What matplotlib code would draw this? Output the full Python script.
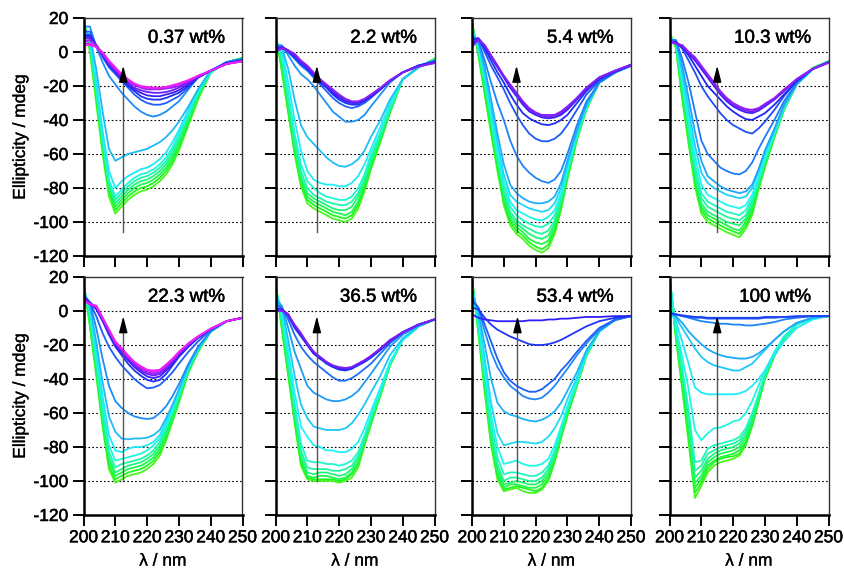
import matplotlib
matplotlib.use("Agg")
import matplotlib.pyplot as plt
import matplotlib.patheffects as pe
from matplotlib.colors import hsv_to_rgb

plt.rcParams['font.family'] = ['Liberation Sans', 'DejaVu Sans']
plt.rcParams['axes.unicode_minus'] = False

# wavelength grid (nm)
WL = [200, 202, 204, 206, 208, 210, 212, 214, 216, 218, 220, 222, 224, 226, 228, 230, 233, 236, 240, 245, 250]

LABELS = ["0.37 wt%", "2.2 wt%", "5.4 wt%", "10.3 wt%", "22.3 wt%", "36.5 wt%", "53.4 wt%", "100 wt%"]

# ellipticity (mdeg), curves ordered from first (green) to last (violet/magenta)
CD_0_37 = [
    [20, 0, -30, -60, -85, -95, -91, -87, -84, -82, -81, -79, -76, -72, -66, -58, -43, -28, -12, -6, -3.5],
    [19, 4, -26, -56, -82, -93, -89, -85, -82, -80, -79, -77, -74, -70, -64, -56, -42, -27, -12, -6, -3.5],
    [18, 4, -25, -55, -80, -91, -87, -83, -80, -78, -77, -75, -72, -68, -62, -54, -40, -26, -12, -6, -3.5],
    [17, 5, -24, -54, -79, -89, -85, -81, -78, -76, -75, -73, -70, -66, -60, -52, -39, -25, -12, -6, -4],
    [16, 6, -22, -52, -77, -87, -83, -79, -76, -74, -73, -71, -68, -64, -58, -50, -37, -24, -12, -6, -4],
    [15, 7, -20, -50, -75, -85, -81, -77, -74, -72, -71, -69, -66, -62, -56, -48, -36, -23, -12, -6, -4],
    [14, 8, -17, -46, -70, -80, -76, -73, -71, -69, -68, -66, -63, -59, -53, -46, -34, -22, -11, -6, -4],
    [13, 10, -10, -35, -57, -64, -62, -60, -59, -58, -57, -55, -53, -50, -46, -41, -32, -22, -11, -6, -4],
    [15, 15, 3, -6, -14, -19, -24, -28, -32, -35, -37, -38, -37, -35, -32, -29, -22, -15, -11, -6, -4],
    [12, 12, 4, -3, -9, -13, -17, -21, -25, -28, -30, -31, -31, -30, -28, -26, -21, -15, -11, -6, -4.5],
    [10, 10, 4, -2, -8, -12, -16, -20, -23, -26, -27.5, -28, -28, -27, -25.5, -24, -20, -15, -11, -6.5, -5],
    [9, 9, 4, -1, -7, -11, -15, -19, -22, -24, -25.5, -26, -26, -25, -24, -22.5, -19, -15, -11, -7, -5],
    [8, 8, 4, -1, -7, -11, -15, -18, -21, -22.5, -23.5, -24, -24, -23.5, -22.5, -21, -18, -14.5, -11, -7, -5],
    [6, 7, 4, -1, -6, -10, -14, -17, -19.5, -21, -22, -22, -22, -21.5, -21, -20, -17.5, -14.5, -11, -7, -5.5],
    [5, 5, 3, -1, -6, -10, -14, -17, -19, -20.5, -21, -21.5, -21.5, -21, -20, -19, -17, -14, -11, -7, -5.5],
    [4, 4, 3, 0, -5, -9, -13, -16, -18.5, -20, -20.5, -21, -21, -20.5, -19.5, -18.5, -16.5, -14, -11, -7, -5.5],
]

CD_2_2 = [
    [12, -12, -36, -60, -79, -89, -92, -94, -96, -98, -99, -100, -98, -92, -82, -69, -53, -36, -16, -9, -4],
    [11, -10, -34, -58, -77, -87, -90, -92, -94, -96, -97, -98, -96, -90, -80, -68, -52, -35, -16, -9, -4],
    [10, -8, -32, -56, -75, -85, -88, -90, -92, -94, -95, -96, -94, -88, -78, -66, -51, -35, -16, -9, -4.5],
    [9, -6, -30, -54, -73, -83, -86, -88, -90, -92, -93, -93, -91, -85, -76, -64, -50, -34, -16, -9, -4.5],
    [8, -4, -27, -51, -70, -80, -84, -86, -88, -89, -90, -90, -88, -83, -74, -62, -48, -33, -16, -9, -5],
    [7, -2, -24, -48, -66, -76, -80, -83, -85, -86, -87, -87, -85, -80, -72, -60, -47, -32, -16, -9, -5],
    [6, 2, -18, -40, -58, -70, -75, -77, -78, -78, -79, -79, -77, -73, -66, -57, -44, -30, -16, -9, -5],
    [5, 3, -10, -28, -43, -50, -54, -58, -62, -65, -67, -67.5, -66, -63, -58, -50, -40, -28, -16, -9, -5],
    [4, 4, -2, -8, -13, -16, -20, -25, -30, -35, -38, -41, -41, -40, -37, -32, -25, -18, -12, -8, -5],
    [3, 3, 0, -4, -8, -11, -15, -19, -23, -27, -30, -32, -33, -32, -30, -27, -22, -17, -12, -8, -5.5],
    [2, 3, 0, -3, -7, -10, -14, -18, -21, -25, -28, -30, -31, -31, -29, -26.5, -22, -17, -12, -8, -6],
    [1, 3, 1, -2, -6, -9, -13, -17, -20, -24, -27, -29, -30, -30, -28.5, -26, -22, -17, -12, -8, -6],
    [1, 3, 1, -2, -6, -9, -13, -16, -20, -23, -26, -28, -29.5, -29.5, -28, -25.5, -21.5, -17, -12, -8.5, -6.5],
    [0, 2, 1, -1, -5, -8, -12, -16, -19, -22, -25, -27.5, -29, -29, -27.5, -25, -21, -16.5, -12, -8.5, -6.5],
]

CD_5_4 = [
    [18, -2, -25, -48, -70, -90, -102, -107, -110, -114, -116.5, -118, -115.5, -107, -93, -75, -52, -34, -18, -11.5, -7.5],
    [17, -1, -24, -46, -68, -88, -100, -105, -108, -112, -114.5, -116, -113.5, -105, -91, -74, -51, -33, -18, -11.5, -7.5],
    [16, 0, -22, -44, -66, -86, -98, -103, -106, -110, -112, -113, -111, -103, -90, -73, -51, -33, -18, -11.5, -7.5],
    [15, 1, -20, -42, -64, -84, -96, -101, -104, -107, -109, -110, -108, -101, -88, -72, -50, -33, -18, -11.5, -8],
    [14, 2, -18, -40, -62, -82, -94, -99, -102, -104, -106, -107, -105, -99, -87, -71, -50, -33, -18, -12, -8],
    [13, 3, -16, -38, -60, -79, -91, -96, -99, -101, -102.5, -103, -101, -96, -85, -70, -49, -32, -18, -12, -8],
    [12, 4, -14, -35, -57, -76, -88, -93, -95, -97, -98.5, -99, -97, -93, -83, -68, -48, -32, -18, -12, -8],
    [11, 5, -12, -32, -53, -72, -84, -88, -90, -92, -93, -94, -93, -89, -80, -66, -47, -31, -18, -12, -8],
    [10, 6, -9, -28, -48, -66, -78, -83, -86, -88, -89, -89, -88, -85, -77, -64, -46, -31, -18, -12, -8],
    [9, 7, -5, -18, -30, -40, -52, -61, -67, -71, -74, -76, -77, -75, -70, -60, -43, -29, -18, -12, -8],
    [8, 8, 0, -8, -15, -22, -30, -37, -43, -48, -51, -52.5, -52.5, -51, -48, -43, -34, -25, -17, -12, -8],
    [7, 8, 2, -5, -12, -18, -25, -31, -36, -39, -41, -42.5, -43, -42, -40, -37, -30, -23, -16, -11.5, -8],
    [5, 8, 3, -3, -9, -15, -21, -26, -31, -35, -37, -38.5, -39, -38.5, -37, -34, -28, -22, -15, -11, -7.5],
    [4, 8, 4, -2, -8, -14, -20, -25, -30, -34, -36, -37.5, -38, -37.5, -36, -33, -27, -21, -15, -11, -7.5],
    [3, 7, 4, -2, -8, -14, -19, -24, -29, -33, -35.5, -37, -37, -37, -35, -32, -27, -21, -15, -11, -7.5],
]

CD_10_3 = [
    [12, 2, -28, -54, -79, -95, -100, -102, -104, -106, -107.5, -109, -104, -96, -81, -68, -50, -34, -19, -9.5, -5.5],
    [11, 3, -26, -52, -77, -93, -98, -100, -102, -104, -105.5, -107, -102, -94, -80, -67, -50, -34, -19, -9.5, -5.5],
    [10, 4, -24, -50, -75, -91, -96, -98, -100, -102, -104, -105, -100, -92, -79, -66, -49, -34, -19, -9.5, -5.5],
    [10, 4, -22, -48, -72, -89, -94, -96, -98, -100, -101, -102, -98, -90, -78, -65, -49, -33, -19, -9.5, -5.5],
    [9, 5, -20, -45, -69, -86, -91, -93, -95, -97, -98, -99, -96, -88, -76, -64, -48, -33, -19, -10, -5.5],
    [9, 5, -18, -42, -66, -83, -88, -90, -92, -94, -95, -96, -93, -86, -75, -63, -48, -33, -19, -10, -6],
    [8, 6, -15, -38, -61, -78, -84, -86, -88, -90, -91, -92, -90, -84, -73, -61, -47, -32, -19, -10, -6],
    [8, 6, -12, -33, -55, -71, -77, -80, -82, -84, -85, -86, -85, -80, -70, -59, -46, -32, -19, -10, -6],
    [7, 7, -8, -27, -47, -64, -73, -76, -79, -81, -82, -83, -82, -78, -69, -58, -45, -31, -19, -10, -6],
    [7, 7, -4, -18, -35, -52, -60, -64, -68, -70, -71.5, -72, -70, -65, -57, -50, -40, -29, -18, -10, -6],
    [6, 6, 2, -5, -12, -20, -26, -31, -36, -40, -43, -45, -47, -48, -45, -41, -34, -26, -17, -10, -6],
    [6, 6, 3, -2, -8, -14, -20, -24, -28, -32, -35, -37.5, -39.5, -40, -38, -36, -31, -25, -17, -10, -6],
    [6, 5, 3, -1, -5, -10, -15, -20, -25, -29, -32, -34, -35.5, -36, -34.5, -32, -28, -23, -16, -10, -6],
    [6, 5, 4, 0, -4, -9, -14, -19, -24, -28, -31, -33, -34.5, -35, -33.5, -31, -27.5, -23, -16, -10, -6],
    [7, 5, 4, 0, -3, -8, -13, -18, -23, -27, -30, -32, -33.5, -34, -33, -30.5, -27, -22, -16, -10, -6.5],
]

CD_22_3 = [
    [18, -9, -38, -68, -93, -101, -99, -97, -96, -95, -93, -90, -85, -76, -65, -54, -36, -24, -12, -6, -4],
    [17, -8, -36, -66, -91, -99, -97, -95, -94, -93, -91, -88, -83, -75, -64, -53, -36, -24, -12, -6, -4],
    [16, -6, -34, -64, -88, -97, -95, -93, -92, -91, -89, -86, -81, -73, -63, -52, -35, -23, -12, -6, -4],
    [15, -4, -32, -62, -86, -95, -93, -91, -90, -89, -87, -84, -79, -71, -61, -51, -35, -23, -12, -6, -4],
    [14, -2, -30, -59, -83, -92, -90, -89, -88, -87, -85, -82, -77, -69, -60, -50, -34, -23, -12, -6, -4],
    [13, 0, -27, -55, -79, -88, -87, -86, -85, -84, -82, -79, -75, -67, -58, -48, -33, -22, -12, -6, -4],
    [12, 2, -23, -50, -73, -82, -83, -81, -80, -80, -79, -77, -73, -65, -56, -47, -33, -22, -12, -6, -4],
    [11, 4, -18, -42, -62, -71, -75, -75.5, -75, -75, -74.5, -73, -70, -63, -55, -46, -32, -22, -12, -6, -4],
    [10, 5, -10, -28, -44, -53, -57, -60, -62, -63, -63.5, -63, -60, -56, -50, -43, -31, -21, -12, -6, -4],
    [9, 5, -3, -13, -21, -27, -32, -36, -40, -43, -45.5, -45, -43.5, -40, -36, -31, -24, -18, -11, -6, -4],
    [8, 5, 1, -6, -14, -21, -26, -31, -35, -38, -40.5, -41.5, -40.5, -37, -32, -27, -21, -16, -11, -6, -4],
    [8, 5, 2, -5, -13, -20, -25, -29, -33, -36, -38.5, -39.5, -38.5, -35, -31, -26, -20, -15.5, -10.5, -6, -4],
    [7, 4, 2, -5, -12, -19, -24, -28, -32, -35, -37, -38, -37, -34, -30, -25.5, -20, -15.5, -10.5, -6, -4],
    [7, 4, 3, -4, -12, -19, -23, -27, -31, -34, -36, -37, -36, -33, -29, -25, -19.5, -15, -10.5, -6, -4],
    [6, 4, 3, -4, -11, -18, -22, -27, -30, -33, -35, -36, -35, -32, -28.5, -24.5, -19, -15, -10.5, -6, -4],
    [6, 4, 3, -4, -11, -18, -22, -26, -30, -32.5, -34.5, -35, -34.5, -31.5, -28, -24, -19, -15, -10.5, -6, -4],
]

CD_36_5 = [
    [18, -11, -38, -66, -91, -99, -100, -100, -100, -100, -101, -100, -98, -92, -79, -67, -50, -32, -17, -9, -5],
    [17, -10, -37, -64, -89, -98, -99, -99, -99, -99, -100, -99, -96, -90, -78, -66, -49, -32, -17, -9, -5],
    [16, -8, -35, -62, -87, -97, -98, -97, -97, -98, -99, -98, -95, -89, -77, -65, -49, -31, -17, -9, -5],
    [15, -6, -33, -60, -85, -95, -96, -95, -95, -96, -97, -96, -93, -87, -76, -64, -48, -31, -17, -9, -5],
    [14, -4, -30, -57, -82, -92, -93, -93, -93, -94, -94, -93, -91, -85, -75, -63, -48, -31, -17, -9, -5],
    [13, -2, -27, -54, -78, -88, -89, -89, -90, -90, -91, -90, -88, -83, -73, -62, -47, -31, -17, -9, -5],
    [12, 0, -23, -48, -68, -74, -79, -80, -82, -82, -83, -83, -81, -77, -69, -59, -45, -30, -17, -9, -5],
    [10, 2, -17, -38, -55, -63, -68, -69, -70, -70, -70, -69, -66, -61, -55, -48, -38, -26, -16, -9, -5],
    [6, 3, -10, -24, -34, -44, -48, -50, -52, -53, -53, -52, -50, -47, -42, -37, -29, -21, -14, -8.5, -5],
    [4, 2, -5, -14, -21, -26, -30, -33, -36, -39, -41, -41, -39.5, -37, -34, -31, -25, -19, -13, -8, -5],
    [2, 1, -3, -10, -15, -20, -25, -28, -31, -33, -34.5, -35, -34, -32, -30, -27.5, -23, -18, -12.5, -8, -5],
    [1, 1, -2, -9, -14, -20, -25, -28, -30, -32.5, -34, -34.5, -33.5, -31.5, -29.5, -27, -22.5, -17.5, -12.5, -8, -5],
    [0, 1, -2, -9, -14, -19, -24, -27, -30, -32, -33.5, -34, -33, -31, -29, -26.5, -22, -17.5, -12.5, -8, -5],
    [0, 0, -2, -8, -13, -19, -24, -27, -30, -32, -33, -33.5, -33, -31, -29, -26.5, -22, -17, -12.5, -8, -5],
]

CD_53_4 = [
    [20, -13, -48, -79, -99, -106, -105, -104, -106, -107, -107, -105, -100, -89, -75, -62, -44, -26.5, -12, -5, -3],
    [19, -12, -46, -77, -97, -105, -104, -103, -104, -105, -106, -104, -99, -88, -74, -61, -44, -26, -12, -5, -3],
    [18, -11, -44, -75, -95, -104, -102, -102, -103, -104, -104, -102, -97, -87, -73, -60, -43, -26, -12, -5, -3],
    [17, -10, -42, -73, -93, -102, -101, -100, -101, -102, -102, -100, -95, -85, -72, -59, -43, -26, -12, -5, -3],
    [16, -9, -40, -70, -90, -100, -98, -98, -99, -100, -100, -98, -93, -84, -71, -58, -42, -25, -12, -5, -3],
    [15, -7, -37, -66, -86, -96, -95, -95, -96, -97, -97, -95, -91, -82, -70, -57, -42, -25, -12, -5, -3],
    [14, -5, -33, -61, -80, -90, -89, -88, -90, -91, -91, -90, -87, -79, -68, -56, -41, -25, -12, -5, -3],
    [12, -2, -28, -54, -72, -79, -78, -77, -77, -77.5, -78, -77, -74, -69, -62, -52, -39, -24, -12, -5, -3],
    [10, 0, -20, -40, -54, -59, -61, -62, -63.5, -64.5, -65, -64, -62, -59, -54, -47, -36, -23, -12, -5, -3],
    [7, 2, -12, -24, -33, -39, -44, -47, -50, -51.5, -52, -51, -48, -44, -39, -34, -26, -19, -11, -5.5, -3],
    [6, 2, -8, -18, -28, -36, -41, -44, -46, -47.5, -47.5, -46, -43, -40, -35, -31, -24, -17.5, -10, -5, -3],
    [2, 1, -4, -8, -11, -13, -15, -16.5, -18, -19.5, -20, -20, -19.5, -18.5, -17, -15, -12, -9, -6, -4, -3],
    [-2, -4, -5, -5.5, -6, -6, -6, -6, -6, -5.5, -5.5, -5.5, -5, -5, -4.5, -4.5, -4, -3.5, -3.5, -3, -3],
]

CD_100 = [
    [20, -16, -46, -77, -110, -103, -95, -91, -89, -88, -87, -85, -79, -68, -54, -40, -26.5, -16.5, -8, -4, -3],
    [20, -15, -44, -74, -107, -101, -93, -89, -87, -86, -85.5, -84, -78, -67, -53, -40, -26, -16, -8, -4, -3],
    [20, -14, -42, -71, -104, -99, -91, -88, -86, -85, -84, -82, -77, -66, -53, -39, -26, -16, -8, -4, -3],
    [20, -13, -40, -68, -101, -97, -89, -86, -84, -83, -82, -80, -75, -65, -52, -39, -25.5, -16, -8, -4, -3],
    [20, -12, -38, -65, -98, -94, -87, -84, -82, -81, -80, -78, -73, -63, -51, -38, -25, -15.5, -8, -4, -3],
    [20, -11, -36, -62, -94, -91, -84, -82, -80, -79, -78, -76, -71, -62, -50, -38, -25, -15.5, -8, -4, -3],
    [19, -10, -33, -58, -89, -88, -81, -79, -78, -77, -76, -74, -69, -60, -49, -37, -24.5, -15, -8, -4, -3],
    [18, -9, -27, -46, -70, -76, -72, -69, -68.5, -67, -65, -64, -60, -53, -44, -35, -24, -15, -8, -4, -3],
    [0, -6, -18, -31, -45, -48, -49, -49, -49, -49, -49, -48.5, -47, -44, -40, -35, -26, -18, -10, -5, -3],
    [-1, -4, -10, -16, -22, -27, -30, -32, -33, -34, -35, -35, -33, -31, -27, -23, -17, -12, -7, -4, -3],
    [-1, -3, -7, -12, -16, -19.5, -22.5, -24.5, -26, -27, -27.5, -28, -28, -27, -25, -22, -17, -12, -7, -4, -3],
    [-1, -2, -3, -4, -5, -6, -6.5, -7, -7.5, -7.5, -8, -8, -8.5, -8.5, -8, -7.5, -6.5, -5, -4, -3, -3],
    [-1, -2, -3, -3.5, -4, -4, -4.5, -4.5, -4.5, -4.5, -4.5, -4.5, -4.5, -4.5, -4.5, -4, -4, -3.5, -3.5, -3, -3],
    [-1.5, -2, -2.5, -3, -3.5, -3.5, -4, -4, -4, -4, -4, -4, -4, -4, -4, -3.5, -3.5, -3.5, -3, -3, -3],
]

PANELS = [CD_0_37, CD_2_2, CD_5_4, CD_10_3, CD_22_3, CD_36_5, CD_53_4, CD_100]

# arrow annotations (nm, mdeg)
ARROW_X = [212.5, 213, 214, 215, 212.5, 213, 214.3, 215]
ARROW_Y0 = [-106, -106, -106, -106, -100, -100, -100, -100]
ARROW_Y1 = [-8, -8, -8, -8, -3, -3, -3, -3]

# colour of last trace in each panel (hue)
HUE_END = [0.83, 0.75, 0.75, 0.76, 0.83, 0.74, 0.68, 0.64]
HUE_START = 0.30

fig = plt.figure(figsize=(8.44, 5.69), dpi=100)
W, H = 844.0, 569.0
lefts = [83.5, 275.5, 472, 669.5]
tops = [18, 277]
aw, ah = 159, 238

FS = 12.5
bold = [pe.withStroke(linewidth=0.35, foreground='black')]
for i, curves in enumerate(PANELS):
    r, c = divmod(i, 4)
    ax = fig.add_axes([lefts[c] / W, 1 - (tops[r] + ah) / H, aw / W, ah / H])
    n = len(curves)
    for k, ys in enumerate(curves):
        h = HUE_START + (HUE_END[i] - HUE_START) * k / (n - 1)
        col = hsv_to_rgb((h, 0.88, 0.97))
        ax.plot(WL, ys, color=col, lw=1.3, solid_joinstyle='round')
    for g in [0, -20, -40, -60, -80, -100]:
        ax.axhline(g, color='black', lw=0.8, ls=(0, (1.5, 2)), zorder=0)
    # arrow shaft (grey) + black head
    ax.plot([ARROW_X[i], ARROW_X[i]], [ARROW_Y0[i], ARROW_Y1[i] - 6], color='#555555', lw=1.0, zorder=5)
    ax.annotate('', xy=(ARROW_X[i], ARROW_Y1[i]), xytext=(ARROW_X[i], ARROW_Y1[i] - 9),
                arrowprops=dict(arrowstyle='-|>,head_width=0.16,head_length=0.62', color='black', lw=1.0,
                                mutation_scale=16, shrinkA=0, shrinkB=0), zorder=6)
    ax.set_xlim(200, 250)
    ax.set_ylim(-120, 20)
    ax.set_xticks(range(200, 251, 10))
    ax.set_yticks(range(-120, 21, 20))
    ax.tick_params(direction='out', length=8, width=1.4, labelsize=FS, top=False, right=False, pad=3)
    for s in ['left', 'bottom']:
        ax.spines[s].set_linewidth(1.8)
    for s in ['top', 'right']:
        ax.spines[s].set_linewidth(1.0)
        ax.spines[s].set_color('#333333')
    t = ax.text(0.89, 0.915, LABELS[i], transform=ax.transAxes, ha='right', va='center', fontsize=13.5)
    t.set_path_effects(bold)
    if c == 0:
        yl = ax.set_ylabel('Ellipticity / mdeg', fontsize=FS, labelpad=4)
        yl.set_path_effects([pe.withStroke(linewidth=0.2, foreground='black')])
    else:
        ax.set_yticklabels([])
    if r == 1:
        xl = ax.set_xlabel('λ / nm', fontsize=FS, labelpad=6)
        xl.set_path_effects([pe.withStroke(linewidth=0.2, foreground='black')])
    else:
        ax.set_xticklabels([])
    for lab in ax.get_xticklabels() + ax.get_yticklabels():
        lab.set_path_effects(bold)

fig.savefig('out.png', dpi=100)
